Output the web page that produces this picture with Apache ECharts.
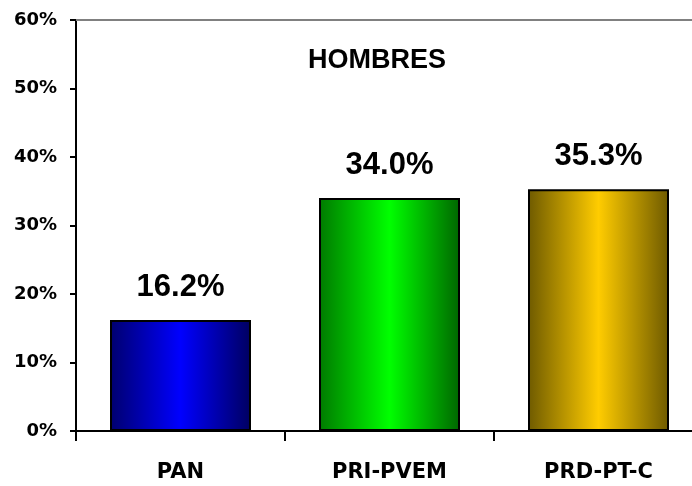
<!DOCTYPE html>
<html>
<head>
<meta charset="utf-8">
<script src="https://cdn.jsdelivr.net/npm/echarts@6/dist/echarts.min.js"></script>
<style>
    html, body { margin: 0; padding: 0; background: #fff; }
    #main { width: 692px; height: 486px; }
</style>
</head>
<body>
<div id="main"></div>
<script>
// datos de la grafica
var titulo = 'HOMBRES';
var partidos = ['PAN', 'PRI-PVEM', 'PRD-PT-C'];
var porcentajes = [16.2, 34.0, 35.3];
var ejeY = [0, 10, 20, 30, 40, 50, 60];

// degradado horizontal: orilla oscura, centro brillante
var colores = [
    ['#00006e', '#0000ff', '#000060'],
    ['#007a00', '#00ff00', '#006600'],
    ['#6e5a00', '#ffcc00', '#6e5a00']
];

function degradado(c) {
    return new echarts.graphic.LinearGradient(0, 0, 1, 0, [
        { offset: 0, color: c[0] },
        { offset: 0.5, color: c[1] },
        { offset: 1, color: c[2] }
    ]);
}

var myChart = echarts.init(document.getElementById('main'));

var datos = porcentajes.map(function (v, i) {
    return {
        value: v,
        itemStyle: { color: degradado(colores[i]) }
    };
});

var option = {
    backgroundColor: '#fff',
    animation: false,
    title: {
        text: titulo,
        left: 308,
        top: 47,
        padding: 0,
        textStyle: {
            fontFamily: 'Liberation Sans',
            fontWeight: 'bold',
            fontSize: 27,
            color: '#000'
        }
    },
    grid: {
        left: 76,
        top: 20,
        width: 627,
        height: 411,
        outerBoundsMode: 'none'
    },
    xAxis: [
        {
            type: 'category',
            data: partidos,
            axisLine: { lineStyle: { color: '#000', width: 2 } },
            axisTick: { show: true, length: 10, lineStyle: { color: '#000', width: 2 } },
            axisLabel: {
                margin: 31,
                fontFamily: 'DejaVu Sans',
                fontWeight: 'bold',
                fontSize: 21,
                color: '#000'
            }
        },
        {
            // linea gris de arriba
            type: 'category',
            position: 'top',
            data: partidos,
            axisLine: { lineStyle: { color: '#808080', width: 2 } },
            axisTick: { show: false },
            axisLabel: { show: false }
        }
    ],
    yAxis: {
        type: 'value',
        min: ejeY[0],
        max: ejeY[ejeY.length - 1],
        interval: 10,
        splitLine: { show: false },
        axisLine: { show: true, lineStyle: { color: '#000', width: 2 } },
        axisTick: { show: true, length: 6, lineStyle: { color: '#000', width: 2 } },
        axisLabel: {
            margin: 19,
            fontFamily: 'DejaVu Sans',
            fontWeight: 'bold',
            fontSize: 18,
            color: '#000',
            formatter: '{value}%'
        }
    },
    series: [
        {
            type: 'bar',
            data: datos,
            barWidth: 141,
            itemStyle: {
                borderColor: '#000',
                borderWidth: 2
            },
            label: {
                show: true,
                position: 'top',
                distance: 17,
                fontFamily: 'Liberation Sans',
                fontWeight: 'bold',
                fontSize: 31,
                color: '#000',
                formatter: function (p) {
                    return p.value.toFixed(1) + '%';
                }
            }
        }
    ]
};

myChart.setOption(option);
</script>
</body>
</html>
